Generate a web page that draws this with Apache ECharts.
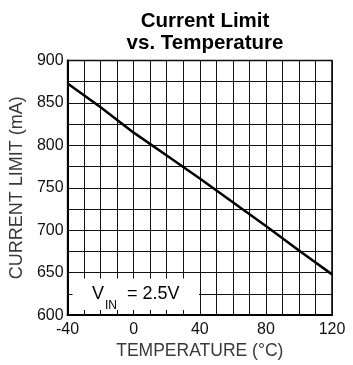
<!DOCTYPE html>
<html>
<head>
<meta charset="utf-8">
<script src="https://cdn.jsdelivr.net/npm/echarts@6/dist/echarts.min.js"></script>
<style>
  html, body { margin: 0; padding: 0; background: #fff; }
  #chart { width: 353px; height: 365px; }
</style>
</head>
<body>
<div id="chart"></div>
<script>
// Temperature sweep (°C) and measured current limit (mA)
const temps = [-40, -20, 0, 20, 40, 60, 80, 100, 120];
const currentLimit = [873, 845, 815, 788, 761, 733, 705, 676, 648];

// Labelled ticks
const xTickLabels = [-40, 0, 40, 80, 120];
const yTickLabels = [600, 650, 700, 750, 800, 850, 900];

const FONT = '"Liberation Sans", Arial, sans-serif';

const chart = echarts.init(document.getElementById('chart'), null, { renderer: 'canvas' });

const seriesData = temps.map((t, i) => [t, currentLimit[i]]);

chart.setOption({
  animation: false,
  backgroundColor: '#fff',
  title: {
    text: 'Current Limit\nvs. Temperature',
    left: 200,
    top: 5,
    textAlign: 'center',
    textStyle: {
      fontFamily: FONT,
      fontWeight: 'bold',
      fontSize: 20.5,
      lineHeight: 22.5,
      color: '#000'
    }
  },
  grid: {
    left: 67,
    right: 21,
    top: 60.5,
    bottom: 41,
    show: true,
    borderColor: '#000',
    borderWidth: 1.5
  },
  xAxis: {
    type: 'value',
    min: -40,
    max: 120,
    interval: 10,
    name: 'TEMPERATURE (°C)',
    nameLocation: 'middle',
    nameGap: 22,
    nameTextStyle: { fontFamily: FONT, fontSize: 17.5, color: '#3a3a3a' },
    axisLine: { show: true, onZero: false, lineStyle: { color: '#000', width: 2 } },
    axisTick: { show: false },
    splitLine: { show: true, lineStyle: { color: '#111', width: 1 } },
    axisLabel: {
      fontFamily: FONT,
      fontSize: 16,
      color: '#111',
      margin: 6,
      formatter: v => (xTickLabels.indexOf(v) >= 0 ? String(v) : '')
    }
  },
  yAxis: {
    type: 'value',
    min: 600,
    max: 900,
    interval: 25,
    name: 'CURRENT LIMIT (mA)',
    nameLocation: 'middle',
    nameGap: 30,
    nameTextStyle: { fontFamily: FONT, fontSize: 18, color: '#3a3a3a' },
    axisLine: { show: true, onZero: false, lineStyle: { color: '#000', width: 2 } },
    axisTick: { show: false },
    splitLine: { show: true, lineStyle: { color: '#111', width: 1 } },
    axisLabel: {
      fontFamily: FONT,
      fontSize: 16,
      color: '#111',
      margin: 4,
      formatter: v => (yTickLabels.indexOf(v) >= 0 ? String(v) : '')
    }
  },
  series: [{
    type: 'line',
    data: seriesData,
    showSymbol: false,
    lineStyle: { color: '#000', width: 2.5 },
    markArea: {
      silent: true,
      itemStyle: { color: '#fff' },
      label: {
        show: true,
        position: 'inside',
        formatter: '{v|V}{s|IN}{v|  = 2.5V}',
        rich: {
          v: { fontFamily: FONT, fontSize: 18, color: '#000', lineHeight: 34, verticalAlign: 'middle' },
          s: { fontFamily: FONT, fontSize: 12, color: '#000', lineHeight: 12, padding: [0, 0, 0, 1], verticalAlign: 'bottom' }
        }
      },
      data: [[{ xAxis: -37, yAxis: 643 }, { xAxis: 39.5, yAxis: 606 }]]
    }
  }]
});
</script>
</body>
</html>
